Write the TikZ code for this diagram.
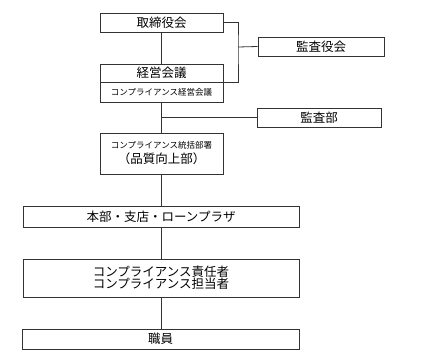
\documentclass[tikz,border=0pt]{standalone}
\usepackage{fontspec}
\newfontfamily\jp{Noto Sans CJK JP}
\usetikzlibrary{positioning,calc}
\definecolor{orgInk}{HTML}{333333}
\tikzset{
  box/.style={draw=orgInk, line width=0.9pt, fill=white, inner sep=0pt, align=center, font=\jp\fontsize{12.5}{14}\selectfont},
  boxS/.style={box, font=\jp\fontsize{8.5}{10}\selectfont},
  lnk/.style={draw=orgInk, line width=0.8pt},
}
\begin{document}
\begin{tikzpicture}[x=1pt, y=-1pt]
  \useasboundingbox (0,0) rectangle (443,363);
  \node[box, minimum width=123pt, minimum height=19pt] (tori) at (161.5,22.5) {取締役会};
  \node[box, minimum width=123pt, minimum height=18pt] (keiei) at (161.5,73) {経営会議};
  \node[boxS, minimum width=123pt, minimum height=20pt] (keieiS) at (161.5,92) {コンプライアンス経営会議};
  \node[box, minimum width=126pt, minimum height=19pt] (yaku) at (321,46.5) {監査役会};
  \node[box, minimum width=124pt, minimum height=19pt] (kansa) at (319,117.5) {監査部};
  \node[box, minimum width=123pt, minimum height=41pt] (tokatsu) at (161.5,153.5)
    {{\fontsize{8.5}{10}\selectfont コンプライアンス統括部署}\\[1pt]（品質向上部）};
  \node[box, minimum width=276pt, minimum height=21pt] (honbu) at (161,216.5) {本部・支店・ローンプラザ};
  \node[box, minimum width=276pt, minimum height=38pt] (seki) at (161,278)
    {コンプライアンス責任者\\[-2pt]コンプライアンス担当者};
  \node[box, minimum width=277pt, minimum height=20pt] (shoku) at (160.5,339) {職員};
  \coordinate (bus) at (238,47);
  \draw[lnk] (tori) -- (keiei);
  \draw[lnk] (tori.east) -| (bus) |- (keiei.south east);
  \draw[lnk] (bus) -- (yaku.west);
  \draw[lnk] (keieiS) -- (tokatsu);
  \draw[lnk] (kansa.west) -- (kansa.west -| tokatsu.north);
  \draw[lnk] (tokatsu.south) -- (tokatsu.south |- honbu.north);
  \draw[lnk] (tokatsu.south |- honbu.south) -- (tokatsu.south |- seki.north);
  \draw[lnk] (tokatsu.south |- seki.south) -- (tokatsu.south |- shoku.north);
\end{tikzpicture}
\end{document}
